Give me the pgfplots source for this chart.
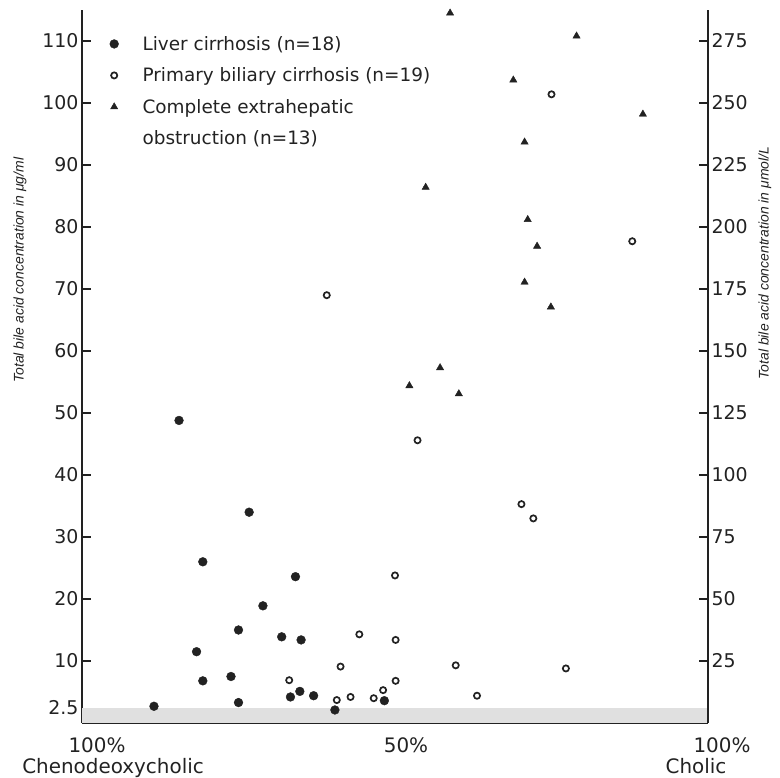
\documentclass[border=0pt]{standalone}
\usepackage{fontspec}
\setmainfont{DejaVu Sans}
\newfontfamily\labfont{Liberation Sans}
\usepackage{pgfplots}
\pgfplotsset{compat=1.18}
\definecolor{ink}{HTML}{222222}
\begin{document}
\begin{tikzpicture}
\begin{axis}[
  at={(0,0)}, anchor=south west,
  scale only axis, width=626bp, height=713bp,
  xmin=0, xmax=100, ymin=0, ymax=115,
  axis x line*=bottom, axis y line*=left,
  axis line style={line width=1.4bp, ink},
  xtick={10,20,...,90}, xticklabels={},
  ytick={10,20,...,110},
  extra y ticks={2.5}, extra y tick labels={2.5},
  extra y tick style={major tick length=0pt},
  tick align=inside,
  major tick length=9bp,
  tick style={line width=1.4bp, ink},
  yticklabel style={font=\fontsize{19}{19}\selectfont, text=ink},
  /pgf/number format/assume math mode=true,
  clip=false,
  legend style={draw=none, fill=none, inner sep=0pt, at={(0,1)}, anchor=north west,
    xshift=27bp, yshift=-24bp, font=\fontsize{18.5}{22}\selectfont, text=ink,
    row sep=12bp, /tikz/every odd column/.append style={column sep=22bp}},
  legend cell align=left,
  legend image code/.code={\draw[mark repeat=2,mark phase=2,#1] plot coordinates {(0bp,0bp)(5bp,0bp)(10bp,0bp)};},
]
\addplot[draw=none, fill=black!12, forget plot] coordinates {(0,0)(0,2.5)(100,2.5)(100,0)} -- cycle;
\addplot[only marks, mark=*, mark size=4.4bp, ink] coordinates {
(15.5,48.8) (26.7,34.0) (19.3,26.0) (34.1,23.6) (28.9,18.9) (25.0,15.0)
(31.9,13.9) (35.0,13.4) (18.3,11.5) (19.3,6.8) (23.8,7.5) (33.3,4.2)
(34.8,5.1) (37.0,4.4) (25.0,3.3) (11.5,2.7) (40.4,2.1) (48.3,3.6)
};
\addlegendentry{Liver cirrhosis (n=18)}
\addplot[only marks, mark=o, mark size=3.1bp, mark options={line width=1.7bp}, ink] coordinates {
(50.0,23.8) (50.1,13.4) (44.3,14.3) (41.3,9.1) (33.1,6.9) (50.1,6.8)
(40.7,3.7) (42.9,4.2) (46.6,4.0) (48.1,5.3) (59.7,9.3) (63.1,4.4)
(77.3,8.8) (53.6,45.6) (70.2,35.3) (72.1,33.0) (75.0,101.4) (87.9,77.7)
(39.1,69.0)
};
\addlegendentry{Primary biliary cirrhosis (n=19)}
\addplot[only marks, mark=triangle*, mark size=4.2bp, ink] coordinates {
(58.8,114.5) (79.0,110.8) (68.9,103.7) (89.6,98.2) (70.7,93.7) (54.9,86.4)
(71.2,81.2) (72.7,76.9) (70.7,71.1) (74.9,67.1) (57.2,57.3) (52.3,54.4)
(60.2,53.1)
};
\addlegendentry{Complete extrahepatic}
\addlegendimage{empty legend}
\addlegendentry{obstruction (n=13)}
\node[rotate=90, font=\labfont\itshape\fontsize{14}{14}\selectfont, text=ink] at ([xshift=-62bp]rel axis cs:0,0.635) {Total bile acid concentration in μg/ml};
\node[rotate=90, font=\labfont\itshape\fontsize{14}{14}\selectfont, text=ink] at ([xshift=57bp]rel axis cs:1,0.645) {Total bile acid concentration in μmol/L};
\node[anchor=base, font=\fontsize{20}{20}\selectfont, text=ink] at ([xshift=15bp,yshift=-29bp]rel axis cs:0,0) {100\%};
\node[anchor=base, font=\fontsize{20}{20}\selectfont, text=ink] at ([xshift=31bp,yshift=-50bp]rel axis cs:0,0) {Chenodeoxycholic};
\node[anchor=base, font=\fontsize{20}{20}\selectfont, text=ink] at ([xshift=11bp,yshift=-29bp]rel axis cs:0.5,0) {50\%};
\node[anchor=base, font=\fontsize{20}{20}\selectfont, text=ink] at ([xshift=14bp,yshift=-29bp]rel axis cs:1,0) {100\%};
\node[anchor=base, font=\fontsize{20}{20}\selectfont, text=ink] at ([xshift=-12bp,yshift=-50bp]rel axis cs:1,0) {Cholic};
\end{axis}
\begin{axis}[
  at={(0,0)}, anchor=south west,
  scale only axis, width=626bp, height=713bp,
  xmin=0, xmax=100, ymin=0, ymax=287.5,
  axis x line=none, axis y line*=right,
  axis line style={line width=1.4bp, ink},
  ytick={25,50,...,275},
  tick align=inside,
  major tick length=9bp,
  tick style={line width=1.4bp, ink},
  yticklabel style={font=\fontsize{19}{19}\selectfont, text=ink},
  /pgf/number format/assume math mode=true,
]
\addplot[draw=none, forget plot] coordinates {(0,0)};
\end{axis}
\pgfresetboundingbox
\path[use as bounding box] (-82bp,-55bp) rectangle (698bp,723bp);
\end{tikzpicture}
\end{document}
